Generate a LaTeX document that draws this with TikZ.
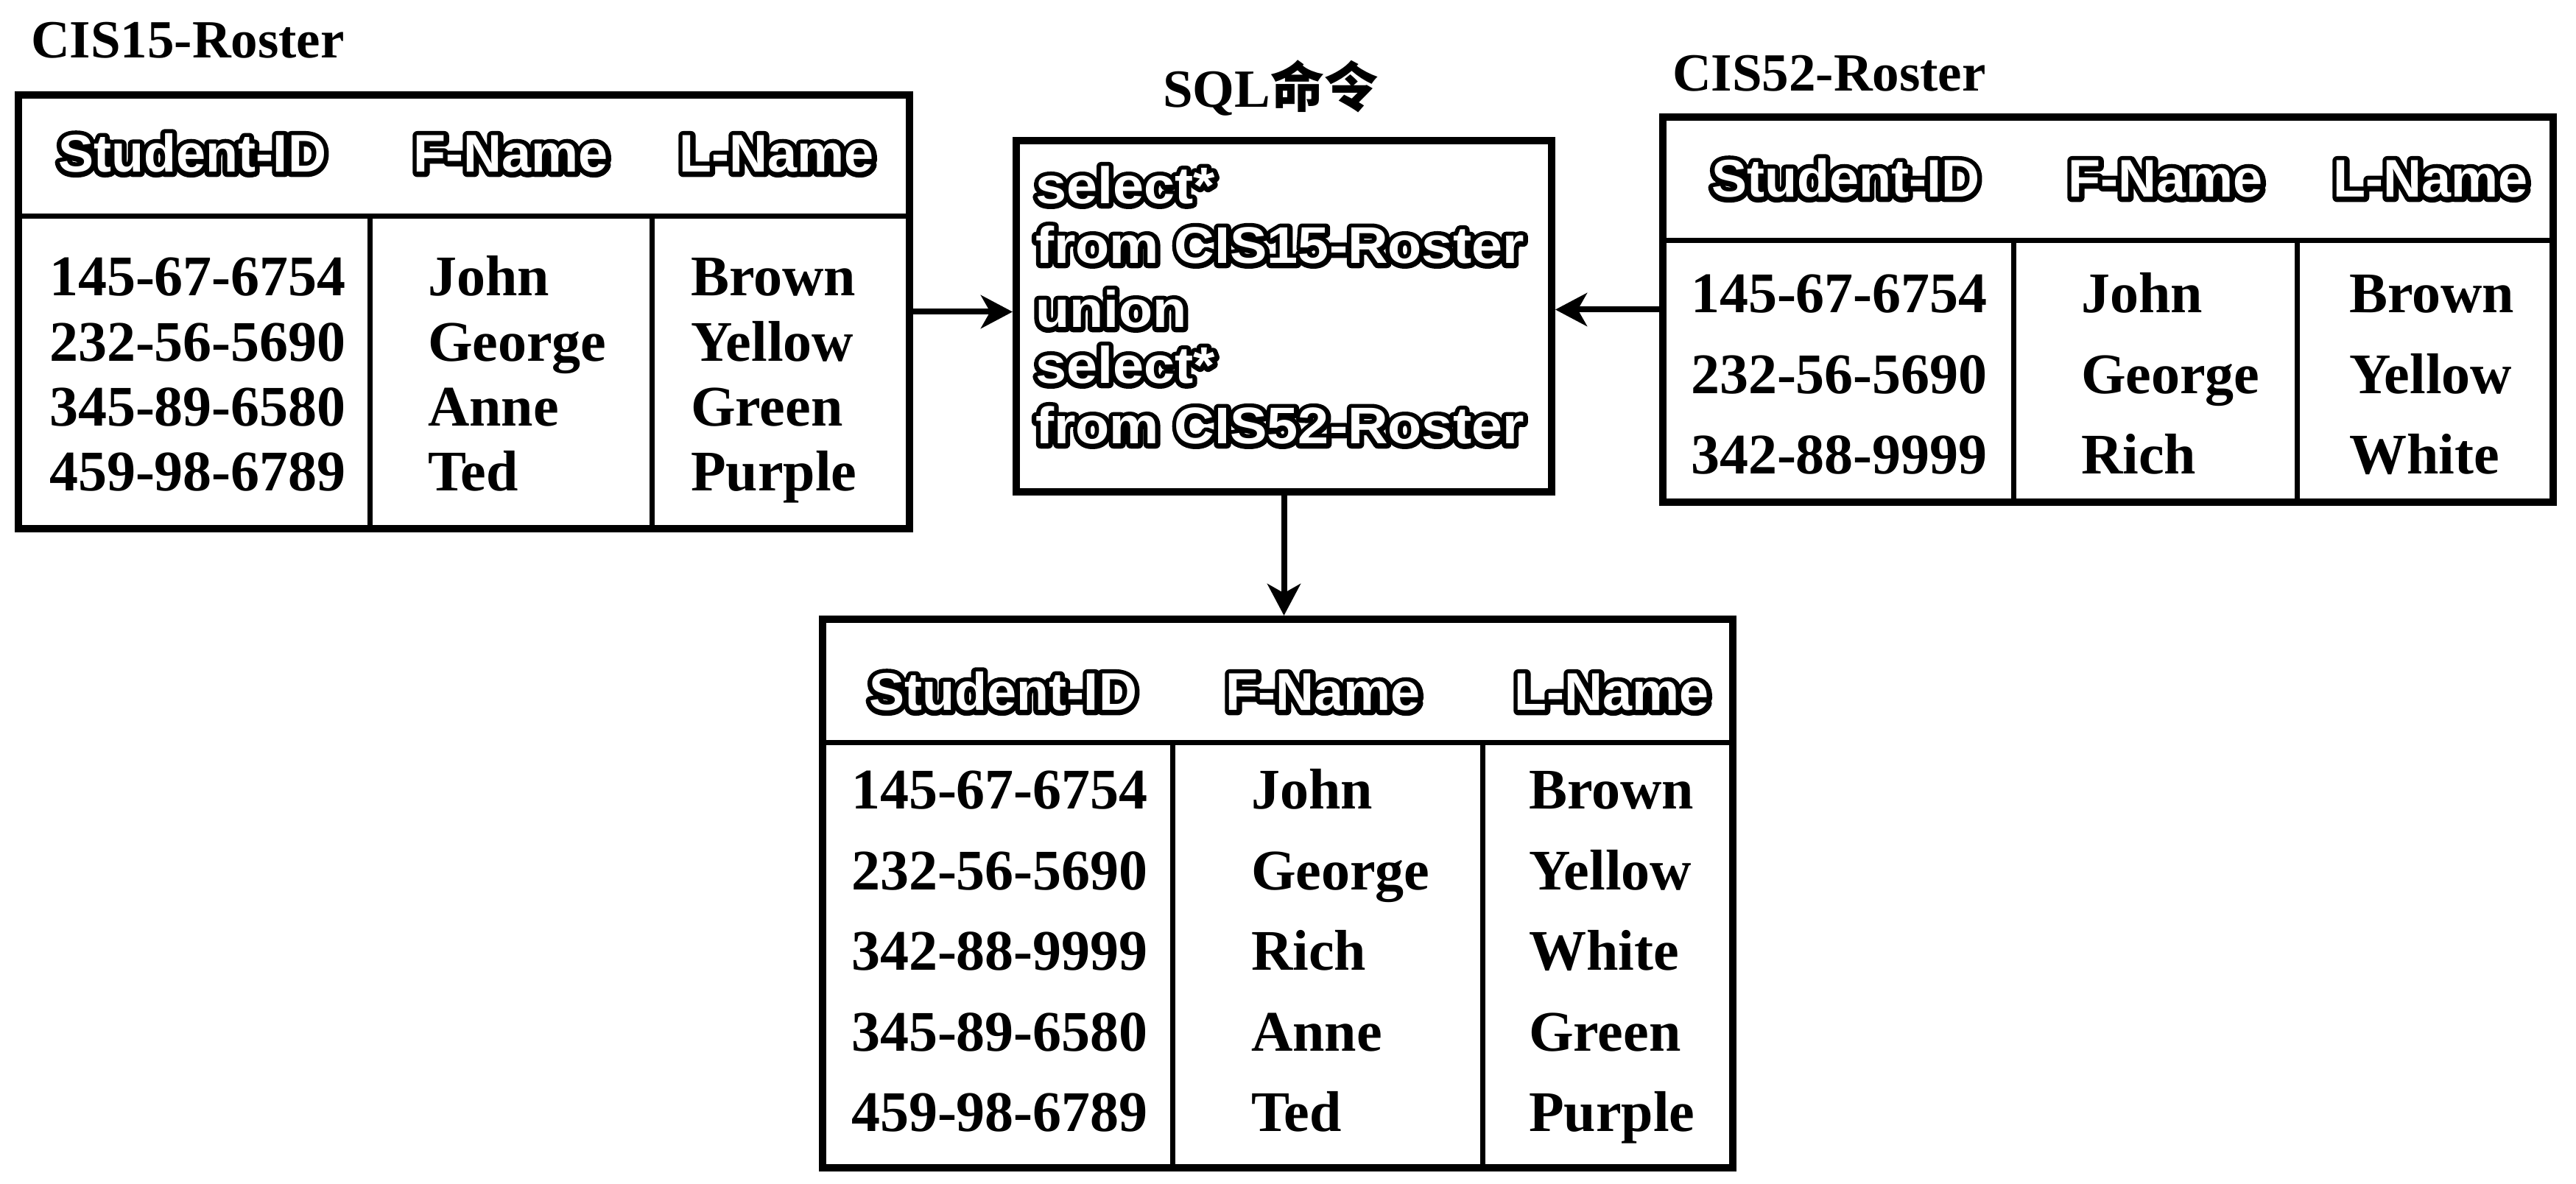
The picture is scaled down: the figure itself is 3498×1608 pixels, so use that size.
\documentclass[tikz,border=0pt]{standalone}
\usepackage{fontspec}
\setmainfont{Liberation Serif}
\newfontfamily\hdsans{Liberation Sans}
\newfontface\hdsansol{Liberation Sans Bold}[FakeBold=18]
\newfontface\sqlsans{Liberation Sans Bold}[FakeStretch=1.08]
\newfontface\sqlsansol{Liberation Sans Bold}[FakeStretch=1.08,FakeBold=18]
\newfontfamily\cjk{Noto Sans CJK SC}
\usetikzlibrary{arrows.meta,fit}
\newcommand\olt[1]{\leavevmode\rlap{\hdsansol\color{black}#1}\textcolor{white}{#1}}
\newcommand\olsql[1]{\leavevmode\rlap{\sqlsansol\color{black}#1}\textcolor{white}{#1}}
\begin{document}
\begin{tikzpicture}[x=0.2pt,y=-0.2pt,
  tbox/.style={draw,line width=2pt,inner sep=0pt},
  inline/.style={line width=1.4pt},
  hdr/.style={anchor=base,inner sep=0pt,line join=round,font=\hdsans\bfseries\fontsize{14.4pt}{17pt}\selectfont},
  cell/.style={anchor=base west,inner sep=0pt,font=\bfseries\fontsize{15.6pt}{18pt}\selectfont},
  ttl/.style={anchor=base west,inner sep=0pt,font=\bfseries\fontsize{14.6pt}{17pt}\selectfont},
  sqlline/.style={anchor=base west,inner sep=0pt,line join=round,font=\sqlsans\fontsize{14pt}{16pt}\selectfont},
  conn/.style={line width=1.6pt,-{Stealth[length=8.6pt,width=9pt,inset=2.5pt]}}]
\useasboundingbox[fill=white] (0,0) rectangle (3498,1608);

% ---------- Table 1 ----------
\node[ttl] (t1title) at (41,79) {CIS15-Roster};
\coordinate (t1nw) at (25,129);
\coordinate (t1se) at (1235,718);
\node[tbox,fit=(t1nw)(t1se)] (t1) {};
\draw[inline] (t1.west |- 0,294) -- (t1.east |- 0,294);
\draw[inline] (502,294) -- (502,718);
\draw[inline] (885,294) -- (885,718);
\node[hdr] (t1h1) at (261,234) {\olt{Student-ID}};
\node[hdr] (t1h2) at (694,234) {\olt{F-Name}};
\node[hdr] (t1h3) at (1055,234) {\olt{L-Name}};
\foreach \id/\fn/\ln [count=\i] in {145-67-6754/John/Brown,232-56-5690/George/Yellow,345-89-6580/Anne/Green,459-98-6789/Ted/Purple}{
  \pgfmathsetmacro\yy{402+88.3*(\i-1)}
  \node[cell] (t1a\i) at (66,\yy) {\id};
  \node[cell] (t1b\i) at (580,\yy) {\fn};
  \node[cell] (t1c\i) at (937,\yy) {\ln};
}

% ---------- SQL box ----------
\node[ttl] (sqltitle) at (1578,146) {SQL{\cjk 命令}};
\coordinate (sqlnw) at (1380,191);
\coordinate (sqlse) at (2107,668);
\node[tbox,fit=(sqlnw)(sqlse)] (sql) {};
\foreach \t/\yy [count=\i] in {select*/277,from CIS15-Roster/358,union/445,select*/521,from CIS52-Roster/603}{
  \node[sqlline] (sq\i) at (1405,\yy) {\olsql{\t}};
}

% ---------- Table 2 ----------
\node[ttl] (t2title) at (2270,124) {CIS52-Roster};
\coordinate (t2nw) at (2258,159);
\coordinate (t2se) at (3467,682);
\node[tbox,fit=(t2nw)(t2se)] (t2) {};
\draw[inline] (t2.west |- 0,327) -- (t2.east |- 0,327);
\draw[inline] (2734,327) -- (2734,682);
\draw[inline] (3119,327) -- (3119,682);
\node[hdr] (t2h1) at (2506,268) {\olt{Student-ID}};
\node[hdr] (t2h2) at (2941,268) {\olt{F-Name}};
\node[hdr] (t2h3) at (3301,268) {\olt{L-Name}};
\foreach \id/\fn/\ln [count=\i] in {145-67-6754/John/Brown,232-56-5690/George/Yellow,342-88-9999/Rich/White}{
  \pgfmathsetmacro\yy{425+109.5*(\i-1)}
  \node[cell] (t2a\i) at (2295,\yy) {\id};
  \node[cell] (t2b\i) at (2825,\yy) {\fn};
  \node[cell] (t2c\i) at (3189,\yy) {\ln};
}

% ---------- Table 3 ----------
\coordinate (t3nw) at (1117,841);
\coordinate (t3se) at (2353,1586);
\node[tbox,fit=(t3nw)(t3se)] (t3) {};
\draw[inline] (t3.west |- 0,1009) -- (t3.east |- 0,1009);
\draw[inline] (1592,1009) -- (1592,1586);
\draw[inline] (2013,1009) -- (2013,1586);
\node[hdr] (t3h1) at (1362,965) {\olt{Student-ID}};
\node[hdr] (t3h2) at (1797,965) {\olt{F-Name}};
\node[hdr] (t3h3) at (2189,965) {\olt{L-Name}};
\foreach \id/\fn/\ln [count=\i] in {145-67-6754/John/Brown,232-56-5690/George/Yellow,342-88-9999/Rich/White,345-89-6580/Anne/Green,459-98-6789/Ted/Purple}{
  \pgfmathsetmacro\yy{1099+109.5*(\i-1)}
  \node[cell] (t3a\i) at (1155,\yy) {\id};
  \node[cell] (t3b\i) at (1698,\yy) {\fn};
  \node[cell] (t3c\i) at (2075,\yy) {\ln};
}

% ---------- connectors ----------
\draw[conn] (t1.east) -- (t1.east -| sql.west);
\draw[conn] (t2.west) -- (t2.west -| sql.east);
\draw[conn] (sql.south) -- (sql.south |- t3.north);
\end{tikzpicture}
\end{document}
